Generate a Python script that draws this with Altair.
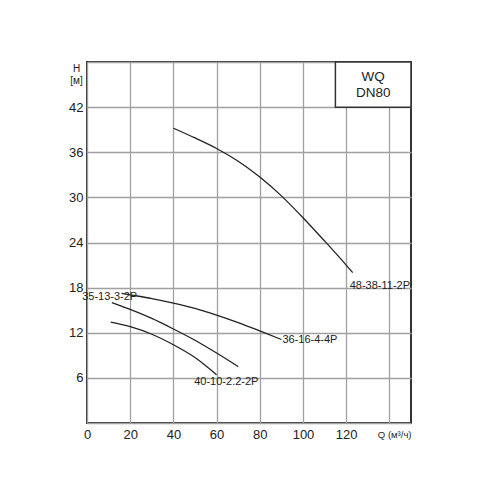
import altair as alt
import pandas as pd

# Pump curves: Q (m3/h) vs H (m)
q_48_38 = [40, 50, 60, 70, 80, 90, 100, 110, 120, 123]
h_48_38 = [39.2, 37.9, 36.5, 34.8, 32.7, 30.2, 27.3, 24.2, 21.0, 20.0]

q_36_16 = [16, 20, 30, 40, 50, 60, 70, 80, 90]
h_36_16 = [17.25, 17.05, 16.55, 15.95, 15.25, 14.35, 13.35, 12.25, 11.1]

q_35_13 = [11.5, 20, 30, 40, 50, 60, 70]
h_35_13 = [16.0, 15.1, 13.9, 12.5, 11.0, 9.3, 7.5]

q_40_10 = [11, 20, 30, 40, 50, 60]
h_40_10 = [13.4, 12.8, 11.8, 10.4, 8.7, 6.4]

series_names = ["48-38-11-2P", "36-16-4-4P", "35-13-3-2P", "40-10-2.2-2P"]
label_q = [135.6, 103.2, 10.5, 64.5]
label_h = [18.2, 11.0, 16.75, 5.5]

x_grid = list(range(0, 151, 10))
y_grid = list(range(0, 49, 3))

box_text = ["WQ", "DN80"]
box_text_h = [46.0, 43.9]

rows = []
for name, qs, hs in zip(series_names,
                        [q_48_38, q_36_16, q_35_13, q_40_10],
                        [h_48_38, h_36_16, h_35_13, h_40_10]):
    for i, (q, h) in enumerate(zip(qs, hs)):
        rows.append({"series": name, "Q": q, "H": h, "order": i})
df = pd.DataFrame(rows)

labels_df = pd.DataFrame({"name": series_names, "Q": label_q, "H": label_h})
box_df = pd.DataFrame({"x": [115], "x2": [150], "y": [42], "y2": [48]})
box_text_df = pd.DataFrame({"t": box_text, "Q": [132.5, 132.5], "H": box_text_h})

FONT = "Liberation Sans"

xscale = alt.Scale(domain=[0, 150], nice=False, zero=False)
yscale = alt.Scale(domain=[0, 48], nice=False, zero=False)

x_axis = alt.Axis(
    values=x_grid,
    labelExpr="datum.value % 20 == 0 && datum.value <= 120 ? datum.label : ''",
    title="Q (м³/ч)", titleX=324, titleY=11, titleAlign="right",
    titleBaseline="middle", titleFontSize=9.5, titleFontWeight="normal",
    titleFont=FONT, titleColor="#222",
    grid=True, gridColor="#a0a0a0", gridWidth=1.3,
    ticks=False, domain=False, labelPadding=5, labelFontSize=13,
    labelFont=FONT, labelColor="#222", labelFlush=False,
)
y_axis = alt.Axis(
    values=y_grid,
    labelExpr="datum.value % 6 == 0 && datum.value > 0 && datum.value < 48 ? datum.label : ''",
    title=["H", "[м]"], titleAngle=0, titleX=-11, titleY=1,
    titleAlign="center", titleBaseline="top", titleFontSize=10,
    titleLineHeight=12, titleFontWeight="normal", titleFont=FONT,
    titleColor="#222",
    grid=True, gridColor="#a0a0a0", gridWidth=1.3,
    ticks=False, domain=False, labelPadding=4, labelFontSize=13,
    labelFont=FONT, labelColor="#222", labelFlush=False,
)

lines = alt.Chart(df).mark_line(color="#222", strokeWidth=1.3, interpolate="monotone").encode(
    x=alt.X("Q:Q", scale=xscale, axis=x_axis),
    y=alt.Y("H:Q", scale=yscale, axis=y_axis),
    detail="series:N",
    order="order:Q",
)

labels = alt.Chart(labels_df).mark_text(
    font=FONT, fontSize=11, color="#222", align="center", baseline="middle"
).encode(x=alt.X("Q:Q", scale=xscale), y=alt.Y("H:Q", scale=yscale), text="name:N")

box = alt.Chart(box_df).mark_rect(fill="white", stroke="#333", strokeWidth=1.5).encode(
    x=alt.X("x:Q", scale=xscale), x2="x2", y=alt.Y("y:Q", scale=yscale), y2="y2"
)

box_text_chart = alt.Chart(box_text_df).mark_text(
    font=FONT, fontSize=13.5, color="#222", align="center", baseline="middle"
).encode(x=alt.X("Q:Q", scale=xscale), y=alt.Y("H:Q", scale=yscale), text="t:N")

chart = alt.layer(lines, labels, box, box_text_chart).properties(
    width=324, height=361,
    autosize=alt.AutoSizeParams(type="none"),
    padding={"left": 79, "top": 54, "right": 60, "bottom": 60},
).configure_view(stroke="#333", strokeWidth=2)

chart.save("out.html", embed_options={"renderer": "svg", "actions": False})
